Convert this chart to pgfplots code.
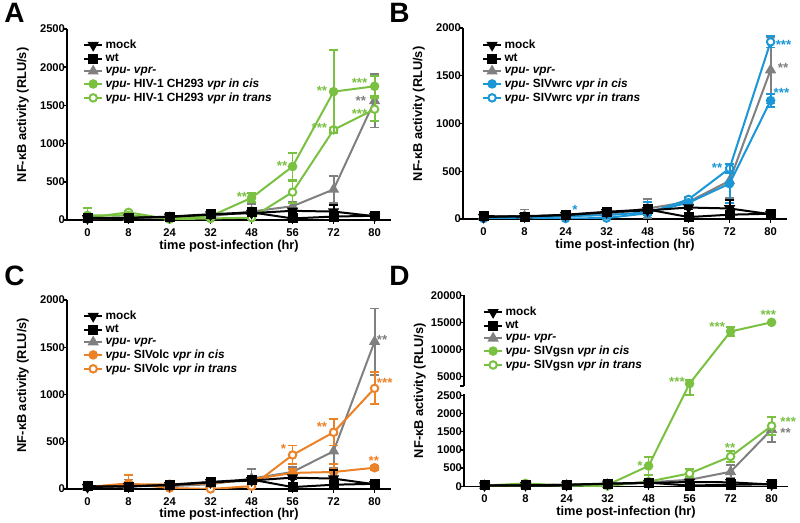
\documentclass[border=0pt]{standalone}
\usepackage{fontspec}
\setmainfont{Liberation Sans}
\usepackage{pgfplots}
\usepackage{pgfplotstable}
\pgfplotsset{compat=1.18}

\definecolor{pgreen}{RGB}{122,193,66}
\definecolor{pblue}{RGB}{27,150,214}
\definecolor{porange}{RGB}{236,130,40}
\definecolor{pgray}{RGB}{128,128,128}

% x = category index (0,8,24,32,48,56,72,80 hr), y = mean, e = error
\pgfplotstableread{
x y e
0 20 10
1 30 10
2 40 10
3 70 15
4 90 20
5 120 20
6 110 90
7 50 10
}\mock
\pgfplotstableread{
x y e
0 30 10
1 25 10
2 45 10
3 75 15
4 100 20
5 20 10
6 45 40
7 55 10
}\wt
\pgfplotstableread{
x y e
0 20 10
1 30 70
2 30 10
3 50 10
4 110 100
5 180 50
6 400 180
7 1560 350
}\vpr
% A: HIV-1 CH293
\pgfplotstableread{
x y e
0 60 100
1 60 20
2 20 10
3 50 10
4 290 60
5 700 180
6 1680 540
7 1750 130
}\acis
\pgfplotstableread{
x y e
0 30 10
1 100 20
2 10 10
3 20 10
4 30 20
5 365 140
6 1180 30
7 1450 150
}\atrans
% B: SIVwrc
\pgfplotstableread{
x y e
0 10 5
1 20 5
2 30 5
3 40 10
4 70 110
5 170 20
6 370 200
7 1240 65
}\bcis
\pgfplotstableread{
x y e
0 5 5
1 15 5
2 5 5
3 10 5
4 60 20
5 205 20
6 530 50
7 1855 60
}\btrans
% C: SIVolc
\pgfplotstableread{
x y e
0 20 10
1 50 20
2 50 10
3 60 10
4 100 30
5 170 40
6 180 80
7 225 20
}\ccis
\pgfplotstableread{
x y e
0 20 10
1 60 90
2 10 10
3 0 10
4 30 20
5 360 100
6 600 140
7 1065 170
}\ctrans
% D: SIVgsn -- errors above the break (rows 5-7) are in the compressed axis units
\pgfplotstableread{
x y ep em
0 20 10 10
1 30 10 10
2 30 10 10
3 40 10 10
4 560 240 240
5 3650 100 302
6 13300 120 120
7 15000 18 18
}\dcis
\pgfplotstableread{
x y e
0 20 10
1 80 20
2 20 10
3 10 10
4 130 30
5 355 110
6 820 160
7 1660 250
}\dtrans

\tikzset{star/.style={font=\bfseries\fontsize{10}{10}\selectfont, inner sep=0pt, yshift=-2.25pt}}

\pgfplotsset{
  mockst/.style={black, line width=1.5pt, mark=triangle*, mark size=3.4pt, mark options={rotate=180}},
  wtst/.style={black, line width=1.5pt, mark=square*, mark size=3pt},
  vprst/.style={pgray, line width=1.5pt, mark=triangle*, mark size=3.4pt},
  cisst/.style={#1, line width=1.5pt, mark=*, mark size=2.8pt},
  transst/.style={#1, line width=1.5pt, mark=*, mark size=2.8pt, mark options={fill=white}},
  eb/.style={error bars/y dir=both, error bars/y explicit,
    error bars/error bar style={line width=1.4pt},
    error bars/error mark options={rotate=90, mark size=3.6pt, line width=1.4pt}},
  prism/.style={
    scale only axis, width=243pt, anchor=south west,
    axis lines*=left,
    axis line style={line width=1.1pt},
    xmin=-0.5, xmax=7.4,
    xtick={0,...,7}, xticklabels={0,8,24,32,48,56,72,80},
    tick align=outside, major tick length=3pt,
    tick style={black, line width=1.1pt},
    /pgf/number format/assume math mode=true,
    /pgf/number format/1000 sep={},
    scaled y ticks=false,
    tick label style={font=\bfseries\fontsize{8.4}{10}\selectfont},
    yticklabel style={xshift=5pt},
    label style={font=\bfseries\fontsize{9.6}{11}\selectfont},
    xlabel={time post-infection (hr)},
    ylabel={NF-κB activity (RLU/s)},
    xlabel style={at={(axis description cs:0.5,-0.135)}, anchor=center},
    ylabel style={at={(axis description cs:-0.136,0.55)}, anchor=center},
    clip mode=individual,
    legend style={draw=none, fill=none, inner sep=0pt, anchor=north west,
      font=\bfseries\fontsize{8.9}{10}\selectfont, row sep=-1.5pt},
    legend cell align=left,
    legend image code/.code={\draw[mark repeat=2,mark phase=2,#1] plot coordinates {(0cm,0cm)(0.23cm,0cm)(0.46cm,0cm)};},
  },
}

% piecewise map for the broken axis of panel D: 0..2540 kept, 3200..20000 compressed
\def\brk#1{\begingroup
  \pgfkeys{/pgf/fpu=true,/pgf/fpu/output format=fixed}%
  \pgfmathparse{(#1)<=2540 ? (#1) : ((#1)<3200 ? 2540+((#1)-2540)*0.3265 : 2755.5+((#1)-3200)*0.14835)}%
  \pgfmathsmuggle\pgfmathresult\endgroup}

\begin{document}
\begin{tikzpicture}
\useasboundingbox (0,0) rectangle (600pt,392.25pt);

% ---------------- A ----------------
\begin{axis}[prism, at={(50.25pt,227.25pt)}, height=143.25pt,
  ymin=0, ymax=2500, ytick={0,500,...,2500},
  legend style={at={(axis description cs:0.05,0.958)}}]
\addlegendimage{mockst}\addlegendentry{mock}
\addlegendimage{wtst}\addlegendentry{wt}
\addlegendimage{vprst}\addlegendentry{\textit{vpu- vpr-}}
\addlegendimage{cisst=pgreen}\addlegendentry{\textit{vpu-} HIV-1 CH293 \textit{vpr in cis}}
\addlegendimage{transst=pgreen}\addlegendentry{\textit{vpu-} HIV-1 CH293 \textit{vpr in trans}}
\addplot[vprst, eb, forget plot] table[x=x, y=y, y error=e] {\vpr};
\addplot[transst=pgreen, eb, forget plot] table[x=x, y=y, y error=e] {\atrans};
\addplot[cisst=pgreen, eb, forget plot] table[x=x, y=y, y error=e] {\acis};
\addplot[wtst, eb, forget plot] table[x=x, y=y, y error=e] {\wt};
\addplot[mockst, eb, forget plot] table[x=x, y=y, y error=e] {\mock};
\node[star, text=pgreen, anchor=east] at (axis cs:3.9,340) {**};
\node[star, text=pgreen, anchor=east] at (axis cs:4.88,746) {**};
\node[star, text=pgreen, anchor=east] at (axis cs:5.85,1728) {**};
\node[star, text=pgreen, anchor=east] at (axis cs:5.85,1243) {***};
\node[star, text=pgreen, anchor=east] at (axis cs:6.83,1835) {***};
\node[star, text=pgray, anchor=east] at (axis cs:6.8,1600) {**};
\node[star, text=pgreen, anchor=east] at (axis cs:6.83,1430) {***};
\end{axis}

% ---------------- B ----------------
\begin{axis}[prism, at={(347.25pt,228pt)}, height=143.25pt,
  ymin=0, ymax=2000, ytick={0,500,...,2000},
  legend style={at={(axis description cs:0.059,0.953)}}]
\addlegendimage{mockst}\addlegendentry{mock}
\addlegendimage{wtst}\addlegendentry{wt}
\addlegendimage{vprst}\addlegendentry{\textit{vpu- vpr-}}
\addlegendimage{cisst=pblue}\addlegendentry{\textit{vpu-} SIVwrc \textit{vpr in cis}}
\addlegendimage{transst=pblue}\addlegendentry{\textit{vpu-} SIVwrc \textit{vpr in trans}}
\addplot[vprst, eb, forget plot] table[x=x, y=y, y error=e] {\vpr};
\addplot[transst=pblue, eb, forget plot] table[x=x, y=y, y error=e] {\btrans};
\addplot[cisst=pblue, eb, forget plot] table[x=x, y=y, y error=e] {\bcis};
\addplot[wtst, eb, forget plot] table[x=x, y=y, y error=e] {\wt};
\addplot[mockst, eb, forget plot] table[x=x, y=y, y error=e] {\mock};
\node[star, text=pblue, anchor=center] at (axis cs:2.23,126) {*};
\node[star, text=pblue, anchor=east] at (axis cs:5.83,565) {**};
\node[star, text=pblue, anchor=west] at (axis cs:7.12,1857) {***};
\node[star, text=pgray, anchor=west] at (axis cs:7.17,1613) {**};
\node[star, text=pblue, anchor=west] at (axis cs:7.07,1350) {***};
\end{axis}

% ---------------- C ----------------
\begin{axis}[prism, at={(50.25pt,25.5pt)}, height=141.75pt,
  ymin=0, ymax=2000, ytick={0,500,...,2000},
  legend style={at={(axis description cs:0.05,0.958)}}]
\addlegendimage{mockst}\addlegendentry{mock}
\addlegendimage{wtst}\addlegendentry{wt}
\addlegendimage{vprst}\addlegendentry{\textit{vpu- vpr-}}
\addlegendimage{cisst=porange}\addlegendentry{\textit{vpu-} SIVolc \textit{vpr in cis}}
\addlegendimage{transst=porange}\addlegendentry{\textit{vpu-} SIVolc \textit{vpr in trans}}
\addplot[vprst, eb, forget plot] table[x=x, y=y, y error=e] {\vpr};
\addplot[transst=porange, eb, forget plot] table[x=x, y=y, y error=e] {\ctrans};
\addplot[cisst=porange, eb, forget plot] table[x=x, y=y, y error=e] {\ccis};
\addplot[wtst, eb, forget plot] table[x=x, y=y, y error=e] {\wt};
\addplot[mockst, eb, forget plot] table[x=x, y=y, y error=e] {\mock};
\node[star, text=porange, anchor=east] at (axis cs:4.85,455) {*};
\node[star, text=porange, anchor=east] at (axis cs:5.85,688) {**};
\node[star, text=pgray, anchor=west] at (axis cs:7.05,1608) {**};
\node[star, text=porange, anchor=west] at (axis cs:7.05,1153) {***};
\node[star, text=porange, anchor=center] at (axis cs:6.98,328) {**};
\end{axis}

% ---------------- D (broken y axis) ----------------
\begin{axis}[prism, at={(348pt,27.5pt)}, height=143.25pt,
  y coord trafo/.code={\brk{#1}},
  ymin=0, ymax=20000,
  ytick={0,500,1000,1500,2000,2500,5000,10000,15000,20000},
  yticklabels={0,500,1000,1500,2000,2500,5000,10000,15000,20000},
  extra y ticks={3200}, extra y tick labels={},
  y axis line style={draw=none},
  ylabel style={at={(axis description cs:-0.136,0.5)}},
  legend style={at={(axis description cs:0.059,0.954)}}]
\addlegendimage{mockst}\addlegendentry{mock}
\addlegendimage{wtst}\addlegendentry{wt}
\addlegendimage{vprst}\addlegendentry{\textit{vpu- vpr-}}
\addlegendimage{cisst=pgreen}\addlegendentry{\textit{vpu-} SIVgsn \textit{vpr in cis}}
\addlegendimage{transst=pgreen}\addlegendentry{\textit{vpu-} SIVgsn \textit{vpr in trans}}
\draw[line width=1.1pt] (axis cs:-0.5,0) -- (axis cs:-0.5,2540);
\draw[line width=1.1pt] (axis cs:-0.5,3200) -- (axis cs:-0.5,20000);
\addplot[vprst, eb, forget plot] table[x=x, y=y, y error=e] {\vpr};
\addplot[transst=pgreen, eb, forget plot] table[x=x, y=y, y error=e] {\dtrans};
\addplot[cisst=pgreen, eb, forget plot] table[x=x, y=y, y error plus=ep, y error minus=em] {\dcis};
\addplot[wtst, eb, forget plot] table[x=x, y=y, y error=e] {\wt};
\addplot[mockst, eb, forget plot] table[x=x, y=y, y error=e] {\mock};
\node[star, text=pgreen, anchor=east] at (axis cs:3.86,640) {*};
\node[star, text=pgreen, anchor=east] at (axis cs:4.89,4561) {***};
\node[star, text=pgreen, anchor=east] at (axis cs:5.87,14743) {***};
\node[star, text=pgreen, anchor=center] at (axis cs:6.92,16906) {***};
\node[star, text=pgreen, anchor=center] at (axis cs:5.99,1143) {**};
\node[star, text=pgreen, anchor=west] at (axis cs:7.21,1857) {***};
\node[star, text=pgray, anchor=west] at (axis cs:7.21,1547) {**};
\end{axis}

\node[anchor=north west, inner sep=0pt, font=\bfseries\fontsize{21}{21}\selectfont] at (3pt,390pt) {A};
\node[anchor=north west, inner sep=0pt, font=\bfseries\fontsize{21}{21}\selectfont] at (291.75pt,390pt) {B};
\node[anchor=north west, inner sep=0pt, font=\bfseries\fontsize{21}{21}\selectfont] at (3pt,192.75pt) {C};
\node[anchor=north west, inner sep=0pt, font=\bfseries\fontsize{21}{21}\selectfont] at (291.75pt,192.75pt) {D};
\end{tikzpicture}
\end{document}
